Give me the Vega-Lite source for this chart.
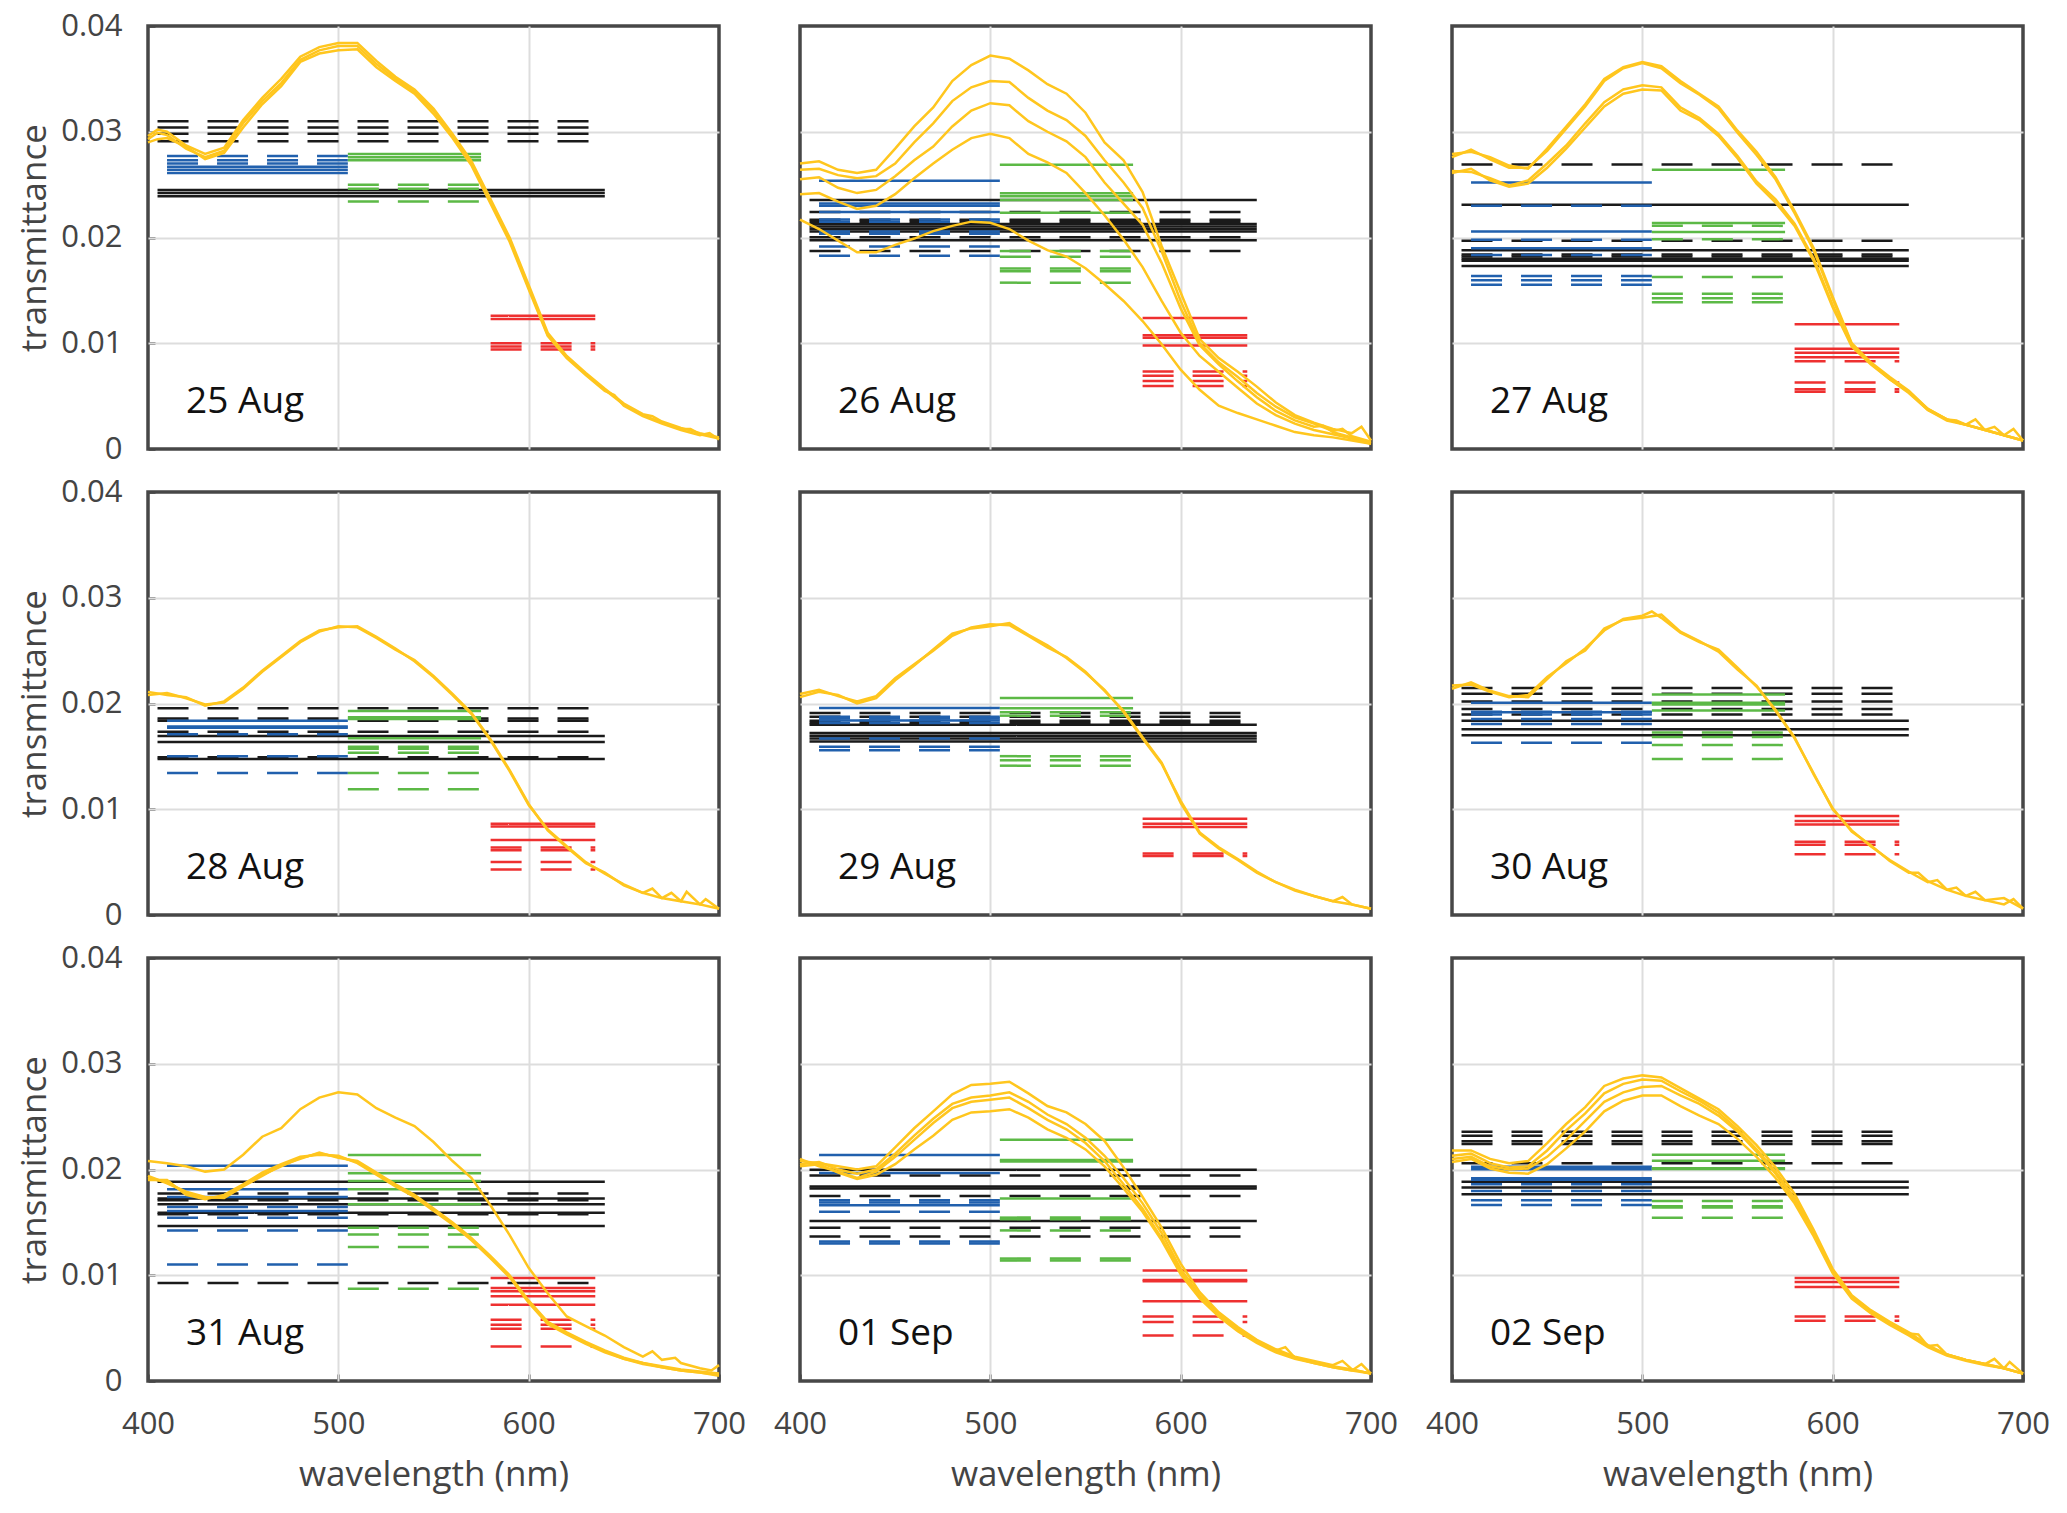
{
  "$schema": "https://vega.github.io/schema/vega-lite/v6.json",
  "padding": {"left": 17, "top": 10, "right": 5, "bottom": 5},
  "bounds": "flush",
  "data": {"values": [
    {"t":"w","day":"25 Aug","x":400,"c1":0.0293,"c2":0.0290,"c3":0.0296},
    {"t":"w","day":"25 Aug","x":405,"c1":0.0299,"c2":0.0293,"c3":0.0302},
    {"t":"w","day":"25 Aug","x":410,"c1":0.0297,"c2":0.0294,"c3":0.0300},
    {"t":"w","day":"25 Aug","x":420,"c1":0.0284,"c2":0.0286,"c3":0.0287},
    {"t":"w","day":"25 Aug","x":430,"c1":0.0276,"c2":0.0274,"c3":0.0279},
    {"t":"w","day":"25 Aug","x":440,"c1":0.0282,"c2":0.0280,"c3":0.0285},
    {"t":"w","day":"25 Aug","x":450,"c1":0.0308,"c2":0.0304,"c3":0.0311},
    {"t":"w","day":"25 Aug","x":460,"c1":0.0329,"c2":0.0326,"c3":0.0332},
    {"t":"w","day":"25 Aug","x":470,"c1":0.0346,"c2":0.0343,"c3":0.0350},
    {"t":"w","day":"25 Aug","x":480,"c1":0.0368,"c2":0.0366,"c3":0.0371},
    {"t":"w","day":"25 Aug","x":490,"c1":0.0377,"c2":0.0374,"c3":0.0380},
    {"t":"w","day":"25 Aug","x":500,"c1":0.0381,"c2":0.0377,"c3":0.0384},
    {"t":"w","day":"25 Aug","x":510,"c1":0.0381,"c2":0.0378,"c3":0.0384},
    {"t":"w","day":"25 Aug","x":520,"c1":0.0364,"c2":0.0361,"c3":0.0367},
    {"t":"w","day":"25 Aug","x":530,"c1":0.0350,"c2":0.0348,"c3":0.0352},
    {"t":"w","day":"25 Aug","x":540,"c1":0.0338,"c2":0.0336,"c3":0.0340},
    {"t":"w","day":"25 Aug","x":550,"c1":0.0320,"c2":0.0317,"c3":0.0322},
    {"t":"w","day":"25 Aug","x":560,"c1":0.0296,"c2":0.0294,"c3":0.0298},
    {"t":"w","day":"25 Aug","x":570,"c1":0.0270,"c2":0.0268,"c3":0.0272},
    {"t":"w","day":"25 Aug","x":580,"c1":0.0234,"c2":0.0232,"c3":0.0236},
    {"t":"w","day":"25 Aug","x":590,"c1":0.0198,"c2":0.0196,"c3":0.0200},
    {"t":"w","day":"25 Aug","x":600,"c1":0.0153,"c2":0.0151,"c3":0.0155},
    {"t":"w","day":"25 Aug","x":610,"c1":0.0108,"c2":0.0107,"c3":0.0110},
    {"t":"w","day":"25 Aug","x":620,"c1":0.0087,"c2":0.0086,"c3":0.0088},
    {"t":"w","day":"25 Aug","x":630,"c1":0.0071,"c2":0.0070,"c3":0.0072},
    {"t":"w","day":"25 Aug","x":640,"c1":0.0056,"c2":0.0055,"c3":0.0057},
    {"t":"w","day":"25 Aug","x":645,"c2":0.0051},
    {"t":"w","day":"25 Aug","x":650,"c1":0.0042,"c2":0.0041,"c3":0.0043},
    {"t":"w","day":"25 Aug","x":660,"c1":0.0032,"c2":0.0031,"c3":0.0033},
    {"t":"w","day":"25 Aug","x":665,"c3":0.0031},
    {"t":"w","day":"25 Aug","x":670,"c1":0.0025,"c2":0.0024,"c3":0.0026},
    {"t":"w","day":"25 Aug","x":680,"c1":0.0019,"c2":0.0018,"c3":0.0020},
    {"t":"w","day":"25 Aug","x":685,"c1":0.0019},
    {"t":"w","day":"25 Aug","x":690,"c1":0.0014,"c2":0.0013,"c3":0.0015},
    {"t":"w","day":"25 Aug","x":695,"c2":0.0015},
    {"t":"w","day":"25 Aug","x":700,"c1":0.0010,"c2":0.0009,"c3":0.0011},

    {"t":"w","day":"26 Aug","x":400,"c1":0.0270,"c2":0.0264,"c3":0.0255,"c4":0.0241,"c5":0.0217},
    {"t":"w","day":"26 Aug","x":410,"c1":0.0272,"c2":0.0265,"c3":0.0257,"c4":0.0242,"c5":0.0208},
    {"t":"w","day":"26 Aug","x":420,"c1":0.0264,"c2":0.0259,"c3":0.0247,"c4":0.0234,"c5":0.0197},
    {"t":"w","day":"26 Aug","x":430,"c1":0.0261,"c2":0.0256,"c3":0.0242,"c4":0.0227,"c5":0.0186},
    {"t":"w","day":"26 Aug","x":440,"c1":0.0264,"c2":0.0258,"c3":0.0245,"c4":0.0230,"c5":0.0186},
    {"t":"w","day":"26 Aug","x":450,"c1":0.0284,"c2":0.0270,"c3":0.0258,"c4":0.0241,"c5":0.0193},
    {"t":"w","day":"26 Aug","x":460,"c1":0.0305,"c2":0.0290,"c3":0.0273,"c4":0.0256,"c5":0.0199},
    {"t":"w","day":"26 Aug","x":470,"c1":0.0323,"c2":0.0308,"c3":0.0286,"c4":0.0270,"c5":0.0206},
    {"t":"w","day":"26 Aug","x":480,"c1":0.0348,"c2":0.0329,"c3":0.0305,"c4":0.0283,"c5":0.0211},
    {"t":"w","day":"26 Aug","x":490,"c1":0.0363,"c2":0.0342,"c3":0.0320,"c4":0.0294,"c5":0.0215},
    {"t":"w","day":"26 Aug","x":500,"c1":0.0372,"c2":0.0348,"c3":0.0327,"c4":0.0298,"c5":0.0214},
    {"t":"w","day":"26 Aug","x":510,"c1":0.0369,"c2":0.0347,"c3":0.0325,"c4":0.0294,"c5":0.0208},
    {"t":"w","day":"26 Aug","x":520,"c1":0.0358,"c2":0.0332,"c3":0.0310,"c4":0.0279,"c5":0.0197},
    {"t":"w","day":"26 Aug","x":530,"c1":0.0345,"c2":0.0320,"c3":0.0300,"c4":0.0271,"c5":0.0188},
    {"t":"w","day":"26 Aug","x":540,"c1":0.0336,"c2":0.0311,"c3":0.0291,"c4":0.0261,"c5":0.0182},
    {"t":"w","day":"26 Aug","x":550,"c1":0.0318,"c2":0.0296,"c3":0.0276,"c4":0.0242,"c5":0.0171},
    {"t":"w","day":"26 Aug","x":560,"c1":0.0290,"c2":0.0273,"c3":0.0252,"c4":0.0221,"c5":0.0156},
    {"t":"w","day":"26 Aug","x":570,"c1":0.0273,"c2":0.0252,"c3":0.0232,"c4":0.0198,"c5":0.0140},
    {"t":"w","day":"26 Aug","x":580,"c1":0.0243,"c2":0.0228,"c3":0.0212,"c4":0.0172,"c5":0.0121},
    {"t":"w","day":"26 Aug","x":590,"c1":0.0192,"c2":0.0187,"c3":0.0176,"c4":0.0140,"c5":0.0099},
    {"t":"w","day":"26 Aug","x":600,"c1":0.0148,"c2":0.0140,"c3":0.0133,"c4":0.0110,"c5":0.0075},
    {"t":"w","day":"26 Aug","x":610,"c1":0.0104,"c2":0.0100,"c3":0.0098,"c4":0.0088,"c5":0.0056},
    {"t":"w","day":"26 Aug","x":620,"c1":0.0086,"c2":0.0082,"c3":0.0080,"c4":0.0073,"c5":0.0041},
    {"t":"w","day":"26 Aug","x":630,"c1":0.0073,"c2":0.0068,"c3":0.0064,"c4":0.0058,"c5":0.0034},
    {"t":"w","day":"26 Aug","x":640,"c1":0.0059,"c2":0.0053,"c3":0.0049,"c4":0.0043,"c5":0.0028},
    {"t":"w","day":"26 Aug","x":650,"c1":0.0044,"c2":0.0040,"c3":0.0036,"c4":0.0032,"c5":0.0022},
    {"t":"w","day":"26 Aug","x":660,"c1":0.0032,"c2":0.0030,"c3":0.0027,"c4":0.0024,"c5":0.0016},
    {"t":"w","day":"26 Aug","x":670,"c1":0.0025,"c2":0.0024,"c3":0.0021,"c4":0.0018,"c5":0.0013},
    {"t":"w","day":"26 Aug","x":675,"c3":0.0022},
    {"t":"w","day":"26 Aug","x":680,"c1":0.0019,"c2":0.0017,"c3":0.0016,"c4":0.0014,"c5":0.0011},
    {"t":"w","day":"26 Aug","x":685,"c2":0.0019},
    {"t":"w","day":"26 Aug","x":690,"c1":0.0015,"c2":0.0012,"c3":0.0011,"c4":0.0010,"c5":0.0008},
    {"t":"w","day":"26 Aug","x":695,"c1":0.0021},
    {"t":"w","day":"26 Aug","x":700,"c1":0.0008,"c2":0.0007,"c3":0.0006,"c4":0.0005,"c5":0.0005},

    {"t":"w","day":"27 Aug","x":400,"c1":0.0279,"c2":0.0276,"c3":0.0263,"c4":0.0261},
    {"t":"w","day":"27 Aug","x":410,"c1":0.0281,"c2":0.0283,"c3":0.0262,"c4":0.0265},
    {"t":"w","day":"27 Aug","x":420,"c1":0.0276,"c2":0.0274,"c3":0.0256,"c4":0.0254},
    {"t":"w","day":"27 Aug","x":430,"c1":0.0268,"c2":0.0266,"c3":0.0249,"c4":0.0248},
    {"t":"w","day":"27 Aug","x":440,"c1":0.0265,"c2":0.0266,"c3":0.0254,"c4":0.0251},
    {"t":"w","day":"27 Aug","x":450,"c1":0.0284,"c2":0.0282,"c3":0.0270,"c4":0.0266},
    {"t":"w","day":"27 Aug","x":460,"c1":0.0305,"c2":0.0303,"c3":0.0287,"c4":0.0284},
    {"t":"w","day":"27 Aug","x":470,"c1":0.0326,"c2":0.0324,"c3":0.0308,"c4":0.0304},
    {"t":"w","day":"27 Aug","x":480,"c1":0.0350,"c2":0.0348,"c3":0.0328,"c4":0.0324},
    {"t":"w","day":"27 Aug","x":490,"c1":0.0361,"c2":0.0360,"c3":0.0340,"c4":0.0336},
    {"t":"w","day":"27 Aug","x":500,"c1":0.0366,"c2":0.0365,"c3":0.0344,"c4":0.0340},
    {"t":"w","day":"27 Aug","x":510,"c1":0.0362,"c2":0.0360,"c3":0.0342,"c4":0.0339},
    {"t":"w","day":"27 Aug","x":520,"c1":0.0348,"c2":0.0346,"c3":0.0323,"c4":0.0320},
    {"t":"w","day":"27 Aug","x":530,"c1":0.0336,"c2":0.0335,"c3":0.0313,"c4":0.0311},
    {"t":"w","day":"27 Aug","x":540,"c1":0.0324,"c2":0.0322,"c3":0.0298,"c4":0.0296},
    {"t":"w","day":"27 Aug","x":550,"c1":0.0301,"c2":0.0299,"c3":0.0277,"c4":0.0275},
    {"t":"w","day":"27 Aug","x":560,"c1":0.0281,"c2":0.0278,"c3":0.0253,"c4":0.0251},
    {"t":"w","day":"27 Aug","x":570,"c1":0.0257,"c2":0.0255,"c3":0.0236,"c4":0.0233},
    {"t":"w","day":"27 Aug","x":580,"c1":0.0225,"c2":0.0223,"c3":0.0213,"c4":0.0211},
    {"t":"w","day":"27 Aug","x":590,"c1":0.0190,"c2":0.0188,"c3":0.0180,"c4":0.0178},
    {"t":"w","day":"27 Aug","x":600,"c1":0.0144,"c2":0.0142,"c3":0.0136,"c4":0.0134},
    {"t":"w","day":"27 Aug","x":610,"c1":0.0100,"c2":0.0099,"c3":0.0098,"c4":0.0097},
    {"t":"w","day":"27 Aug","x":620,"c1":0.0082,"c2":0.0081,"c3":0.0081,"c4":0.0080},
    {"t":"w","day":"27 Aug","x":630,"c1":0.0068,"c2":0.0067,"c3":0.0066,"c4":0.0066},
    {"t":"w","day":"27 Aug","x":640,"c1":0.0055,"c2":0.0054,"c3":0.0054,"c4":0.0053},
    {"t":"w","day":"27 Aug","x":650,"c1":0.0038,"c2":0.0038,"c3":0.0037,"c4":0.0037},
    {"t":"w","day":"27 Aug","x":660,"c1":0.0028,"c2":0.0028,"c3":0.0028,"c4":0.0027},
    {"t":"w","day":"27 Aug","x":665,"c3":0.0027},
    {"t":"w","day":"27 Aug","x":670,"c1":0.0023,"c2":0.0023,"c3":0.0023,"c4":0.0023},
    {"t":"w","day":"27 Aug","x":675,"c1":0.0028},
    {"t":"w","day":"27 Aug","x":680,"c1":0.0018,"c2":0.0018,"c3":0.0018,"c4":0.0018},
    {"t":"w","day":"27 Aug","x":685,"c2":0.0021},
    {"t":"w","day":"27 Aug","x":690,"c1":0.0013,"c2":0.0013,"c3":0.0013,"c4":0.0013},
    {"t":"w","day":"27 Aug","x":695,"c1":0.0019},
    {"t":"w","day":"27 Aug","x":700,"c1":0.0008,"c2":0.0008,"c3":0.0008,"c4":0.0008},

    {"t":"w","day":"28 Aug","x":400,"c1":0.0208,"c2":0.0211},
    {"t":"w","day":"28 Aug","x":410,"c1":0.0210,"c2":0.0208},
    {"t":"w","day":"28 Aug","x":420,"c1":0.0205,"c2":0.0206},
    {"t":"w","day":"28 Aug","x":430,"c1":0.0199,"c2":0.0198},
    {"t":"w","day":"28 Aug","x":440,"c1":0.0201,"c2":0.0202},
    {"t":"w","day":"28 Aug","x":450,"c1":0.0214,"c2":0.0215},
    {"t":"w","day":"28 Aug","x":460,"c1":0.0230,"c2":0.0231},
    {"t":"w","day":"28 Aug","x":470,"c1":0.0244,"c2":0.0245},
    {"t":"w","day":"28 Aug","x":480,"c1":0.0258,"c2":0.0259},
    {"t":"w","day":"28 Aug","x":490,"c1":0.0268,"c2":0.0269},
    {"t":"w","day":"28 Aug","x":500,"c1":0.0273,"c2":0.0272},
    {"t":"w","day":"28 Aug","x":510,"c1":0.0272,"c2":0.0273},
    {"t":"w","day":"28 Aug","x":520,"c1":0.0262,"c2":0.0263},
    {"t":"w","day":"28 Aug","x":530,"c1":0.0251,"c2":0.0252},
    {"t":"w","day":"28 Aug","x":540,"c1":0.0241,"c2":0.0240},
    {"t":"w","day":"28 Aug","x":550,"c1":0.0226,"c2":0.0225},
    {"t":"w","day":"28 Aug","x":560,"c1":0.0209,"c2":0.0208},
    {"t":"w","day":"28 Aug","x":570,"c1":0.0191,"c2":0.0190},
    {"t":"w","day":"28 Aug","x":580,"c1":0.0166,"c2":0.0165},
    {"t":"w","day":"28 Aug","x":590,"c1":0.0137,"c2":0.0136},
    {"t":"w","day":"28 Aug","x":600,"c1":0.0105,"c2":0.0104},
    {"t":"w","day":"28 Aug","x":610,"c1":0.0080,"c2":0.0081},
    {"t":"w","day":"28 Aug","x":620,"c1":0.0064,"c2":0.0065},
    {"t":"w","day":"28 Aug","x":630,"c1":0.0049,"c2":0.0050},
    {"t":"w","day":"28 Aug","x":640,"c1":0.0040,"c2":0.0039},
    {"t":"w","day":"28 Aug","x":650,"c1":0.0028,"c2":0.0029},
    {"t":"w","day":"28 Aug","x":660,"c1":0.0021,"c2":0.0021},
    {"t":"w","day":"28 Aug","x":665,"c1":0.0025},
    {"t":"w","day":"28 Aug","x":670,"c1":0.0016,"c2":0.0016},
    {"t":"w","day":"28 Aug","x":675,"c2":0.0021},
    {"t":"w","day":"28 Aug","x":680,"c1":0.0013,"c2":0.0013},
    {"t":"w","day":"28 Aug","x":683,"c1":0.0022},
    {"t":"w","day":"28 Aug","x":690,"c1":0.0010,"c2":0.0010},
    {"t":"w","day":"28 Aug","x":693,"c2":0.0015},
    {"t":"w","day":"28 Aug","x":700,"c1":0.0006,"c2":0.0006},

    {"t":"w","day":"29 Aug","x":400,"c1":0.0209,"c2":0.0206},
    {"t":"w","day":"29 Aug","x":410,"c1":0.0213,"c2":0.0211},
    {"t":"w","day":"29 Aug","x":420,"c1":0.0207,"c2":0.0208},
    {"t":"w","day":"29 Aug","x":430,"c1":0.0202,"c2":0.0200},
    {"t":"w","day":"29 Aug","x":440,"c1":0.0207,"c2":0.0205},
    {"t":"w","day":"29 Aug","x":450,"c1":0.0224,"c2":0.0222},
    {"t":"w","day":"29 Aug","x":460,"c1":0.0237,"c2":0.0236},
    {"t":"w","day":"29 Aug","x":470,"c1":0.0250,"c2":0.0251},
    {"t":"w","day":"29 Aug","x":480,"c1":0.0264,"c2":0.0266},
    {"t":"w","day":"29 Aug","x":490,"c1":0.0272,"c2":0.0271},
    {"t":"w","day":"29 Aug","x":500,"c1":0.0275,"c2":0.0273},
    {"t":"w","day":"29 Aug","x":510,"c1":0.0274,"c2":0.0276},
    {"t":"w","day":"29 Aug","x":520,"c1":0.0264,"c2":0.0265},
    {"t":"w","day":"29 Aug","x":530,"c1":0.0253,"c2":0.0255},
    {"t":"w","day":"29 Aug","x":540,"c1":0.0244,"c2":0.0243},
    {"t":"w","day":"29 Aug","x":550,"c1":0.0230,"c2":0.0229},
    {"t":"w","day":"29 Aug","x":560,"c1":0.0212,"c2":0.0213},
    {"t":"w","day":"29 Aug","x":570,"c1":0.0193,"c2":0.0192},
    {"t":"w","day":"29 Aug","x":580,"c1":0.0168,"c2":0.0167},
    {"t":"w","day":"29 Aug","x":590,"c1":0.0144,"c2":0.0143},
    {"t":"w","day":"29 Aug","x":600,"c1":0.0106,"c2":0.0108},
    {"t":"w","day":"29 Aug","x":610,"c1":0.0077,"c2":0.0078},
    {"t":"w","day":"29 Aug","x":620,"c1":0.0063,"c2":0.0064},
    {"t":"w","day":"29 Aug","x":630,"c1":0.0052,"c2":0.0053},
    {"t":"w","day":"29 Aug","x":640,"c1":0.0040,"c2":0.0041},
    {"t":"w","day":"29 Aug","x":650,"c1":0.0031,"c2":0.0031},
    {"t":"w","day":"29 Aug","x":660,"c1":0.0023,"c2":0.0024},
    {"t":"w","day":"29 Aug","x":670,"c1":0.0018,"c2":0.0018},
    {"t":"w","day":"29 Aug","x":680,"c1":0.0013,"c2":0.0013},
    {"t":"w","day":"29 Aug","x":685,"c1":0.0017},
    {"t":"w","day":"29 Aug","x":690,"c1":0.0010,"c2":0.0010},
    {"t":"w","day":"29 Aug","x":700,"c1":0.0006,"c2":0.0006},

    {"t":"w","day":"30 Aug","x":400,"c1":0.0217,"c2":0.0214},
    {"t":"w","day":"30 Aug","x":410,"c1":0.0218,"c2":0.0220},
    {"t":"w","day":"30 Aug","x":420,"c1":0.0211,"c2":0.0212},
    {"t":"w","day":"30 Aug","x":430,"c1":0.0206,"c2":0.0207},
    {"t":"w","day":"30 Aug","x":440,"c1":0.0208,"c2":0.0206},
    {"t":"w","day":"30 Aug","x":450,"c1":0.0225,"c2":0.0223},
    {"t":"w","day":"30 Aug","x":460,"c1":0.0238,"c2":0.0240},
    {"t":"w","day":"30 Aug","x":470,"c1":0.0252,"c2":0.0250},
    {"t":"w","day":"30 Aug","x":480,"c1":0.0269,"c2":0.0271},
    {"t":"w","day":"30 Aug","x":490,"c1":0.0280,"c2":0.0279},
    {"t":"w","day":"30 Aug","x":500,"c1":0.0283,"c2":0.0281},
    {"t":"w","day":"30 Aug","x":505,"c1":0.0287},
    {"t":"w","day":"30 Aug","x":510,"c1":0.0281,"c2":0.0284},
    {"t":"w","day":"30 Aug","x":520,"c1":0.0267,"c2":0.0268},
    {"t":"w","day":"30 Aug","x":530,"c1":0.0258,"c2":0.0259},
    {"t":"w","day":"30 Aug","x":540,"c1":0.0251,"c2":0.0249},
    {"t":"w","day":"30 Aug","x":550,"c1":0.0234,"c2":0.0232},
    {"t":"w","day":"30 Aug","x":560,"c1":0.0216,"c2":0.0217},
    {"t":"w","day":"30 Aug","x":570,"c1":0.0194,"c2":0.0193},
    {"t":"w","day":"30 Aug","x":580,"c1":0.0168,"c2":0.0167},
    {"t":"w","day":"30 Aug","x":590,"c1":0.0133,"c2":0.0134},
    {"t":"w","day":"30 Aug","x":600,"c1":0.0101,"c2":0.0100},
    {"t":"w","day":"30 Aug","x":610,"c1":0.0079,"c2":0.0080},
    {"t":"w","day":"30 Aug","x":620,"c1":0.0066,"c2":0.0065},
    {"t":"w","day":"30 Aug","x":630,"c1":0.0051,"c2":0.0052},
    {"t":"w","day":"30 Aug","x":640,"c1":0.0040,"c2":0.0041},
    {"t":"w","day":"30 Aug","x":645,"c1":0.0040},
    {"t":"w","day":"30 Aug","x":650,"c1":0.0032,"c2":0.0031},
    {"t":"w","day":"30 Aug","x":655,"c2":0.0033},
    {"t":"w","day":"30 Aug","x":660,"c1":0.0024,"c2":0.0024},
    {"t":"w","day":"30 Aug","x":665,"c1":0.0026},
    {"t":"w","day":"30 Aug","x":670,"c1":0.0018,"c2":0.0018},
    {"t":"w","day":"30 Aug","x":675,"c2":0.0022},
    {"t":"w","day":"30 Aug","x":680,"c1":0.0014,"c2":0.0014},
    {"t":"w","day":"30 Aug","x":690,"c1":0.0016,"c2":0.0010},
    {"t":"w","day":"30 Aug","x":695,"c2":0.0015},
    {"t":"w","day":"30 Aug","x":700,"c1":0.0006,"c2":0.0006},

    {"t":"w","day":"31 Aug","x":400,"c1":0.0208,"c2":0.0192,"c3":0.0190,"c4":0.0194},
    {"t":"w","day":"31 Aug","x":410,"c1":0.0206,"c2":0.0188,"c3":0.0190,"c4":0.0187},
    {"t":"w","day":"31 Aug","x":420,"c1":0.0203,"c2":0.0178,"c3":0.0176,"c4":0.0179},
    {"t":"w","day":"31 Aug","x":430,"c1":0.0198,"c2":0.0173,"c3":0.0172,"c4":0.0174},
    {"t":"w","day":"31 Aug","x":440,"c1":0.0200,"c2":0.0174,"c3":0.0176,"c4":0.0173},
    {"t":"w","day":"31 Aug","x":450,"c1":0.0214,"c2":0.0185,"c3":0.0186,"c4":0.0184},
    {"t":"w","day":"31 Aug","x":460,"c1":0.0231,"c2":0.0195,"c3":0.0197,"c4":0.0194},
    {"t":"w","day":"31 Aug","x":470,"c1":0.0239,"c2":0.0203,"c3":0.0205,"c4":0.0204},
    {"t":"w","day":"31 Aug","x":480,"c1":0.0257,"c2":0.0211,"c3":0.0212,"c4":0.0210},
    {"t":"w","day":"31 Aug","x":490,"c1":0.0268,"c2":0.0215,"c3":0.0214,"c4":0.0216},
    {"t":"w","day":"31 Aug","x":500,"c1":0.0273,"c2":0.0212,"c3":0.0213,"c4":0.0211},
    {"t":"w","day":"31 Aug","x":510,"c1":0.0271,"c2":0.0207,"c3":0.0206,"c4":0.0208},
    {"t":"w","day":"31 Aug","x":520,"c1":0.0258,"c2":0.0196,"c3":0.0195,"c4":0.0197},
    {"t":"w","day":"31 Aug","x":530,"c1":0.0249,"c2":0.0185,"c3":0.0184,"c4":0.0186},
    {"t":"w","day":"31 Aug","x":540,"c1":0.0241,"c2":0.0175,"c3":0.0174,"c4":0.0176},
    {"t":"w","day":"31 Aug","x":550,"c1":0.0226,"c2":0.0162,"c3":0.0161,"c4":0.0163},
    {"t":"w","day":"31 Aug","x":560,"c1":0.0208,"c2":0.0149,"c3":0.0148,"c4":0.0150},
    {"t":"w","day":"31 Aug","x":570,"c1":0.0192,"c2":0.0134,"c3":0.0133,"c4":0.0135},
    {"t":"w","day":"31 Aug","x":580,"c1":0.0166,"c2":0.0117,"c3":0.0116,"c4":0.0118},
    {"t":"w","day":"31 Aug","x":590,"c1":0.0138,"c2":0.0099,"c3":0.0098,"c4":0.0100},
    {"t":"w","day":"31 Aug","x":600,"c1":0.0107,"c2":0.0075,"c3":0.0074,"c4":0.0076},
    {"t":"w","day":"31 Aug","x":610,"c1":0.0083,"c2":0.0055,"c3":0.0054,"c4":0.0056},
    {"t":"w","day":"31 Aug","x":620,"c1":0.0061,"c2":0.0045,"c3":0.0044,"c4":0.0046},
    {"t":"w","day":"31 Aug","x":630,"c1":0.0052,"c2":0.0036,"c3":0.0035,"c4":0.0037},
    {"t":"w","day":"31 Aug","x":640,"c1":0.0043,"c2":0.0028,"c3":0.0027,"c4":0.0029},
    {"t":"w","day":"31 Aug","x":650,"c1":0.0032,"c2":0.0021,"c3":0.0021,"c4":0.0022},
    {"t":"w","day":"31 Aug","x":660,"c1":0.0023,"c2":0.0017,"c3":0.0016,"c4":0.0017},
    {"t":"w","day":"31 Aug","x":665,"c1":0.0028},
    {"t":"w","day":"31 Aug","x":670,"c1":0.0020,"c2":0.0013,"c3":0.0013,"c4":0.0014},
    {"t":"w","day":"31 Aug","x":677,"c1":0.0022},
    {"t":"w","day":"31 Aug","x":680,"c1":0.0017,"c2":0.0010,"c3":0.0010,"c4":0.0011},
    {"t":"w","day":"31 Aug","x":690,"c1":0.0012,"c2":0.0008,"c3":0.0008,"c4":0.0009},
    {"t":"w","day":"31 Aug","x":696,"c1":0.0010},
    {"t":"w","day":"31 Aug","x":700,"c1":0.0015,"c2":0.0006,"c3":0.0005,"c4":0.0007},

    {"t":"w","day":"01 Sep","x":400,"c1":0.0208,"c2":0.0205,"c3":0.0210,"c4":0.0203},
    {"t":"w","day":"01 Sep","x":410,"c1":0.0206,"c2":0.0207,"c3":0.0203,"c4":0.0205},
    {"t":"w","day":"01 Sep","x":420,"c1":0.0203,"c2":0.0200,"c3":0.0198,"c4":0.0197},
    {"t":"w","day":"01 Sep","x":430,"c1":0.0200,"c2":0.0196,"c3":0.0192,"c4":0.0191},
    {"t":"w","day":"01 Sep","x":440,"c1":0.0203,"c2":0.0200,"c3":0.0198,"c4":0.0195},
    {"t":"w","day":"01 Sep","x":450,"c1":0.0221,"c2":0.0215,"c3":0.0212,"c4":0.0205},
    {"t":"w","day":"01 Sep","x":460,"c1":0.0239,"c2":0.0232,"c3":0.0228,"c4":0.0219},
    {"t":"w","day":"01 Sep","x":470,"c1":0.0255,"c2":0.0248,"c3":0.0244,"c4":0.0232},
    {"t":"w","day":"01 Sep","x":480,"c1":0.0271,"c2":0.0262,"c3":0.0258,"c4":0.0247},
    {"t":"w","day":"01 Sep","x":490,"c1":0.0280,"c2":0.0268,"c3":0.0264,"c4":0.0254},
    {"t":"w","day":"01 Sep","x":500,"c1":0.0281,"c2":0.0270,"c3":0.0266,"c4":0.0255},
    {"t":"w","day":"01 Sep","x":510,"c1":0.0283,"c2":0.0273,"c3":0.0268,"c4":0.0257},
    {"t":"w","day":"01 Sep","x":520,"c1":0.0272,"c2":0.0264,"c3":0.0258,"c4":0.0249},
    {"t":"w","day":"01 Sep","x":530,"c1":0.0260,"c2":0.0252,"c3":0.0247,"c4":0.0238},
    {"t":"w","day":"01 Sep","x":540,"c1":0.0254,"c2":0.0243,"c3":0.0238,"c4":0.0230},
    {"t":"w","day":"01 Sep","x":550,"c1":0.0243,"c2":0.0230,"c3":0.0225,"c4":0.0219},
    {"t":"w","day":"01 Sep","x":560,"c1":0.0227,"c2":0.0213,"c3":0.0208,"c4":0.0203},
    {"t":"w","day":"01 Sep","x":570,"c1":0.0202,"c2":0.0192,"c3":0.0186,"c4":0.0182},
    {"t":"w","day":"01 Sep","x":580,"c1":0.0174,"c2":0.0168,"c3":0.0163,"c4":0.0160},
    {"t":"w","day":"01 Sep","x":590,"c1":0.0145,"c2":0.0140,"c3":0.0135,"c4":0.0133},
    {"t":"w","day":"01 Sep","x":600,"c1":0.0111,"c2":0.0106,"c3":0.0103,"c4":0.0101},
    {"t":"w","day":"01 Sep","x":610,"c1":0.0084,"c2":0.0081,"c3":0.0079,"c4":0.0078},
    {"t":"w","day":"01 Sep","x":620,"c1":0.0065,"c2":0.0063,"c3":0.0062,"c4":0.0061},
    {"t":"w","day":"01 Sep","x":630,"c1":0.0051,"c2":0.0049,"c3":0.0048,"c4":0.0047},
    {"t":"w","day":"01 Sep","x":640,"c1":0.0039,"c2":0.0038,"c3":0.0037,"c4":0.0036},
    {"t":"w","day":"01 Sep","x":650,"c1":0.0030,"c2":0.0029,"c3":0.0028,"c4":0.0027},
    {"t":"w","day":"01 Sep","x":655,"c2":0.0032},
    {"t":"w","day":"01 Sep","x":660,"c1":0.0023,"c2":0.0022,"c3":0.0022,"c4":0.0021},
    {"t":"w","day":"01 Sep","x":670,"c1":0.0019,"c2":0.0018,"c3":0.0017,"c4":0.0017},
    {"t":"w","day":"01 Sep","x":680,"c1":0.0015,"c2":0.0014,"c3":0.0013,"c4":0.0013},
    {"t":"w","day":"01 Sep","x":685,"c1":0.0019},
    {"t":"w","day":"01 Sep","x":690,"c1":0.0011,"c2":0.0011,"c3":0.0010,"c4":0.0010},
    {"t":"w","day":"01 Sep","x":695,"c3":0.0016},
    {"t":"w","day":"01 Sep","x":700,"c1":0.0007,"c2":0.0007,"c3":0.0007,"c4":0.0007},

    {"t":"w","day":"02 Sep","x":400,"c1":0.0218,"c2":0.0213,"c3":0.0210,"c4":0.0207},
    {"t":"w","day":"02 Sep","x":410,"c1":0.0218,"c2":0.0215,"c3":0.0212,"c4":0.0210},
    {"t":"w","day":"02 Sep","x":420,"c1":0.0210,"c2":0.0206,"c3":0.0203,"c4":0.0201},
    {"t":"w","day":"02 Sep","x":430,"c1":0.0206,"c2":0.0202,"c3":0.0200,"c4":0.0197},
    {"t":"w","day":"02 Sep","x":440,"c1":0.0208,"c2":0.0203,"c3":0.0201,"c4":0.0196},
    {"t":"w","day":"02 Sep","x":450,"c1":0.0225,"c2":0.0218,"c3":0.0212,"c4":0.0205},
    {"t":"w","day":"02 Sep","x":460,"c1":0.0243,"c2":0.0237,"c3":0.0228,"c4":0.0220},
    {"t":"w","day":"02 Sep","x":470,"c1":0.0259,"c2":0.0253,"c3":0.0246,"c4":0.0236},
    {"t":"w","day":"02 Sep","x":480,"c1":0.0279,"c2":0.0272,"c3":0.0264,"c4":0.0255},
    {"t":"w","day":"02 Sep","x":490,"c1":0.0286,"c2":0.0281,"c3":0.0273,"c4":0.0265},
    {"t":"w","day":"02 Sep","x":500,"c1":0.0289,"c2":0.0285,"c3":0.0278,"c4":0.0270},
    {"t":"w","day":"02 Sep","x":510,"c1":0.0287,"c2":0.0284,"c3":0.0279,"c4":0.0270},
    {"t":"w","day":"02 Sep","x":520,"c1":0.0277,"c2":0.0274,"c3":0.0270,"c4":0.0260},
    {"t":"w","day":"02 Sep","x":530,"c1":0.0267,"c2":0.0265,"c3":0.0262,"c4":0.0251},
    {"t":"w","day":"02 Sep","x":540,"c1":0.0257,"c2":0.0254,"c3":0.0251,"c4":0.0243},
    {"t":"w","day":"02 Sep","x":550,"c1":0.0241,"c2":0.0238,"c3":0.0236,"c4":0.0229},
    {"t":"w","day":"02 Sep","x":560,"c1":0.0223,"c2":0.0219,"c3":0.0217,"c4":0.0212},
    {"t":"w","day":"02 Sep","x":570,"c1":0.0202,"c2":0.0198,"c3":0.0196,"c4":0.0192},
    {"t":"w","day":"02 Sep","x":580,"c1":0.0177,"c2":0.0173,"c3":0.0171,"c4":0.0168},
    {"t":"w","day":"02 Sep","x":590,"c1":0.0143,"c2":0.0140,"c3":0.0139,"c4":0.0137},
    {"t":"w","day":"02 Sep","x":600,"c1":0.0106,"c2":0.0104,"c3":0.0103,"c4":0.0102},
    {"t":"w","day":"02 Sep","x":610,"c1":0.0081,"c2":0.0080,"c3":0.0079,"c4":0.0078},
    {"t":"w","day":"02 Sep","x":620,"c1":0.0067,"c2":0.0066,"c3":0.0065,"c4":0.0064},
    {"t":"w","day":"02 Sep","x":630,"c1":0.0056,"c2":0.0055,"c3":0.0054,"c4":0.0053},
    {"t":"w","day":"02 Sep","x":640,"c1":0.0046,"c2":0.0045,"c3":0.0044,"c4":0.0043},
    {"t":"w","day":"02 Sep","x":645,"c2":0.0044},
    {"t":"w","day":"02 Sep","x":650,"c1":0.0034,"c2":0.0033,"c3":0.0033,"c4":0.0032},
    {"t":"w","day":"02 Sep","x":655,"c3":0.0034},
    {"t":"w","day":"02 Sep","x":660,"c1":0.0025,"c2":0.0025,"c3":0.0025,"c4":0.0024},
    {"t":"w","day":"02 Sep","x":670,"c1":0.0020,"c2":0.0020,"c3":0.0020,"c4":0.0019},
    {"t":"w","day":"02 Sep","x":680,"c1":0.0016,"c2":0.0016,"c3":0.0016,"c4":0.0015},
    {"t":"w","day":"02 Sep","x":685,"c1":0.0021},
    {"t":"w","day":"02 Sep","x":690,"c1":0.0012,"c2":0.0012,"c3":0.0012,"c4":0.0012},
    {"t":"w","day":"02 Sep","x":693,"c2":0.0018},
    {"t":"w","day":"02 Sep","x":700,"c1":0.0007,"c2":0.0007,"c3":0.0007,"c4":0.0007},

    {"t":"s","day":"25 Aug","col":"k","ls":"d","x":405,"x2":640,"y":0.0310},
    {"t":"s","day":"25 Aug","col":"k","ls":"d","x":405,"x2":640,"y":0.0304},
    {"t":"s","day":"25 Aug","col":"k","ls":"d","x":405,"x2":640,"y":0.0298},
    {"t":"s","day":"25 Aug","col":"k","ls":"d","x":405,"x2":640,"y":0.0291},
    {"t":"s","day":"25 Aug","col":"k","ls":"s","x":405,"x2":640,"y":0.0245},
    {"t":"s","day":"25 Aug","col":"k","ls":"s","x":405,"x2":640,"y":0.0242},
    {"t":"s","day":"25 Aug","col":"k","ls":"s","x":405,"x2":640,"y":0.0239},
    {"t":"s","day":"25 Aug","col":"b","ls":"d","x":410,"x2":505,"y":0.0277},
    {"t":"s","day":"25 Aug","col":"b","ls":"d","x":410,"x2":505,"y":0.0273},
    {"t":"s","day":"25 Aug","col":"b","ls":"d","x":410,"x2":505,"y":0.0270},
    {"t":"s","day":"25 Aug","col":"b","ls":"s","x":410,"x2":505,"y":0.0267},
    {"t":"s","day":"25 Aug","col":"b","ls":"s","x":410,"x2":505,"y":0.0264},
    {"t":"s","day":"25 Aug","col":"b","ls":"s","x":410,"x2":505,"y":0.0261},
    {"t":"s","day":"25 Aug","col":"g","ls":"s","x":505,"x2":575,"y":0.0279},
    {"t":"s","day":"25 Aug","col":"g","ls":"s","x":505,"x2":575,"y":0.0276},
    {"t":"s","day":"25 Aug","col":"g","ls":"s","x":505,"x2":575,"y":0.0273},
    {"t":"s","day":"25 Aug","col":"g","ls":"d","x":505,"x2":575,"y":0.0250},
    {"t":"s","day":"25 Aug","col":"g","ls":"d","x":505,"x2":575,"y":0.0246},
    {"t":"s","day":"25 Aug","col":"g","ls":"d","x":505,"x2":575,"y":0.0234},
    {"t":"s","day":"25 Aug","col":"r","ls":"s","x":580,"x2":635,"y":0.0126},
    {"t":"s","day":"25 Aug","col":"r","ls":"s","x":580,"x2":635,"y":0.0123},
    {"t":"s","day":"25 Aug","col":"r","ls":"d","x":580,"x2":635,"y":0.0100},
    {"t":"s","day":"25 Aug","col":"r","ls":"d","x":580,"x2":635,"y":0.0097},
    {"t":"s","day":"25 Aug","col":"r","ls":"d","x":580,"x2":635,"y":0.0094},

    {"t":"s","day":"26 Aug","col":"k","ls":"s","x":405,"x2":640,"y":0.02354},
    {"t":"s","day":"26 Aug","col":"k","ls":"s","x":405,"x2":640,"y":0.02128},
    {"t":"s","day":"26 Aug","col":"k","ls":"s","x":405,"x2":640,"y":0.02105},
    {"t":"s","day":"26 Aug","col":"k","ls":"s","x":405,"x2":640,"y":0.0208},
    {"t":"s","day":"26 Aug","col":"k","ls":"s","x":405,"x2":640,"y":0.02057},
    {"t":"s","day":"26 Aug","col":"k","ls":"s","x":405,"x2":640,"y":0.01974},
    {"t":"s","day":"26 Aug","col":"k","ls":"d","x":405,"x2":640,"y":0.02242},
    {"t":"s","day":"26 Aug","col":"k","ls":"d","x":405,"x2":640,"y":0.02169},
    {"t":"s","day":"26 Aug","col":"k","ls":"d","x":405,"x2":640,"y":0.0215},
    {"t":"s","day":"26 Aug","col":"k","ls":"d","x":405,"x2":640,"y":0.02003},
    {"t":"s","day":"26 Aug","col":"k","ls":"d","x":405,"x2":640,"y":0.01872},
    {"t":"s","day":"26 Aug","col":"b","ls":"s","x":410,"x2":505,"y":0.02536},
    {"t":"s","day":"26 Aug","col":"b","ls":"s","x":410,"x2":505,"y":0.02322},
    {"t":"s","day":"26 Aug","col":"b","ls":"s","x":410,"x2":505,"y":0.0230},
    {"t":"s","day":"26 Aug","col":"b","ls":"s","x":410,"x2":505,"y":0.02242},
    {"t":"s","day":"26 Aug","col":"b","ls":"d","x":410,"x2":505,"y":0.0217},
    {"t":"s","day":"26 Aug","col":"b","ls":"d","x":410,"x2":505,"y":0.02148},
    {"t":"s","day":"26 Aug","col":"b","ls":"d","x":410,"x2":505,"y":0.02057},
    {"t":"s","day":"26 Aug","col":"b","ls":"d","x":410,"x2":505,"y":0.02036},
    {"t":"s","day":"26 Aug","col":"b","ls":"d","x":410,"x2":505,"y":0.01914},
    {"t":"s","day":"26 Aug","col":"b","ls":"d","x":410,"x2":505,"y":0.01828},
    {"t":"s","day":"26 Aug","col":"g","ls":"s","x":505,"x2":575,"y":0.02689},
    {"t":"s","day":"26 Aug","col":"g","ls":"s","x":505,"x2":575,"y":0.02418},
    {"t":"s","day":"26 Aug","col":"g","ls":"s","x":505,"x2":575,"y":0.02389},
    {"t":"s","day":"26 Aug","col":"g","ls":"s","x":505,"x2":575,"y":0.02354},
    {"t":"s","day":"26 Aug","col":"g","ls":"s","x":505,"x2":575,"y":0.02233},
    {"t":"s","day":"26 Aug","col":"g","ls":"d","x":505,"x2":575,"y":0.01872},
    {"t":"s","day":"26 Aug","col":"g","ls":"d","x":505,"x2":575,"y":0.01818},
    {"t":"s","day":"26 Aug","col":"g","ls":"d","x":505,"x2":575,"y":0.01707},
    {"t":"s","day":"26 Aug","col":"g","ls":"d","x":505,"x2":575,"y":0.01681},
    {"t":"s","day":"26 Aug","col":"g","ls":"d","x":505,"x2":575,"y":0.01573},
    {"t":"s","day":"26 Aug","col":"r","ls":"s","x":580,"x2":635,"y":0.01238},
    {"t":"s","day":"26 Aug","col":"r","ls":"s","x":580,"x2":635,"y":0.01075},
    {"t":"s","day":"26 Aug","col":"r","ls":"s","x":580,"x2":635,"y":0.01053},
    {"t":"s","day":"26 Aug","col":"r","ls":"s","x":580,"x2":635,"y":0.00979},
    {"t":"s","day":"26 Aug","col":"r","ls":"d","x":580,"x2":635,"y":0.00734},
    {"t":"s","day":"26 Aug","col":"r","ls":"d","x":580,"x2":635,"y":0.00692},
    {"t":"s","day":"26 Aug","col":"r","ls":"d","x":580,"x2":635,"y":0.00644},
    {"t":"s","day":"26 Aug","col":"r","ls":"d","x":580,"x2":635,"y":0.00596},

    {"t":"s","day":"27 Aug","col":"k","ls":"d","x":405,"x2":640,"y":0.0269},
    {"t":"s","day":"27 Aug","col":"k","ls":"d","x":405,"x2":640,"y":0.0197},
    {"t":"s","day":"27 Aug","col":"k","ls":"d","x":405,"x2":640,"y":0.0184},
    {"t":"s","day":"27 Aug","col":"k","ls":"d","x":405,"x2":640,"y":0.0182},
    {"t":"s","day":"27 Aug","col":"k","ls":"s","x":405,"x2":640,"y":0.0231},
    {"t":"s","day":"27 Aug","col":"k","ls":"s","x":405,"x2":640,"y":0.0188},
    {"t":"s","day":"27 Aug","col":"k","ls":"s","x":405,"x2":640,"y":0.0180},
    {"t":"s","day":"27 Aug","col":"k","ls":"s","x":405,"x2":640,"y":0.0178},
    {"t":"s","day":"27 Aug","col":"k","ls":"s","x":405,"x2":640,"y":0.0173},
    {"t":"s","day":"27 Aug","col":"b","ls":"s","x":410,"x2":505,"y":0.0252},
    {"t":"s","day":"27 Aug","col":"b","ls":"s","x":410,"x2":505,"y":0.02057},
    {"t":"s","day":"27 Aug","col":"b","ls":"s","x":410,"x2":505,"y":0.01898},
    {"t":"s","day":"27 Aug","col":"b","ls":"d","x":410,"x2":505,"y":0.0230},
    {"t":"s","day":"27 Aug","col":"b","ls":"d","x":410,"x2":505,"y":0.01978},
    {"t":"s","day":"27 Aug","col":"b","ls":"d","x":410,"x2":505,"y":0.01834},
    {"t":"s","day":"27 Aug","col":"b","ls":"d","x":410,"x2":505,"y":0.01636},
    {"t":"s","day":"27 Aug","col":"b","ls":"d","x":410,"x2":505,"y":0.01595},
    {"t":"s","day":"27 Aug","col":"b","ls":"d","x":410,"x2":505,"y":0.01553},
    {"t":"s","day":"27 Aug","col":"g","ls":"s","x":505,"x2":575,"y":0.02641},
    {"t":"s","day":"27 Aug","col":"g","ls":"s","x":505,"x2":575,"y":0.02137},
    {"t":"s","day":"27 Aug","col":"g","ls":"d","x":505,"x2":575,"y":0.0211},
    {"t":"s","day":"27 Aug","col":"g","ls":"s","x":505,"x2":575,"y":0.02051},
    {"t":"s","day":"27 Aug","col":"g","ls":"d","x":505,"x2":575,"y":0.01984},
    {"t":"s","day":"27 Aug","col":"g","ls":"d","x":505,"x2":575,"y":0.01627},
    {"t":"s","day":"27 Aug","col":"g","ls":"d","x":505,"x2":575,"y":0.01467},
    {"t":"s","day":"27 Aug","col":"g","ls":"d","x":505,"x2":575,"y":0.01426},
    {"t":"s","day":"27 Aug","col":"g","ls":"d","x":505,"x2":575,"y":0.01388},
    {"t":"s","day":"27 Aug","col":"r","ls":"s","x":580,"x2":635,"y":0.0118},
    {"t":"s","day":"27 Aug","col":"r","ls":"s","x":580,"x2":635,"y":0.00947},
    {"t":"s","day":"27 Aug","col":"r","ls":"s","x":580,"x2":635,"y":0.00909},
    {"t":"s","day":"27 Aug","col":"r","ls":"s","x":580,"x2":635,"y":0.00868},
    {"t":"s","day":"27 Aug","col":"r","ls":"d","x":580,"x2":635,"y":0.00829},
    {"t":"s","day":"27 Aug","col":"r","ls":"d","x":580,"x2":635,"y":0.00628},
    {"t":"s","day":"27 Aug","col":"r","ls":"d","x":580,"x2":635,"y":0.00565},
    {"t":"s","day":"27 Aug","col":"r","ls":"d","x":580,"x2":635,"y":0.00542},

    {"t":"s","day":"28 Aug","col":"k","ls":"d","x":405,"x2":640,"y":0.01955},
    {"t":"s","day":"28 Aug","col":"k","ls":"d","x":405,"x2":640,"y":0.01859},
    {"t":"s","day":"28 Aug","col":"k","ls":"d","x":405,"x2":640,"y":0.01837},
    {"t":"s","day":"28 Aug","col":"k","ls":"d","x":405,"x2":640,"y":0.01732},
    {"t":"s","day":"28 Aug","col":"k","ls":"d","x":405,"x2":640,"y":0.01492},
    {"t":"s","day":"28 Aug","col":"k","ls":"s","x":405,"x2":640,"y":0.01693},
    {"t":"s","day":"28 Aug","col":"k","ls":"s","x":405,"x2":640,"y":0.01636},
    {"t":"s","day":"28 Aug","col":"k","ls":"s","x":405,"x2":640,"y":0.01476},
    {"t":"s","day":"28 Aug","col":"b","ls":"s","x":410,"x2":505,"y":0.01837},
    {"t":"s","day":"28 Aug","col":"b","ls":"s","x":410,"x2":505,"y":0.01783},
    {"t":"s","day":"28 Aug","col":"b","ls":"s","x":410,"x2":505,"y":0.0177},
    {"t":"s","day":"28 Aug","col":"b","ls":"d","x":410,"x2":505,"y":0.01709},
    {"t":"s","day":"28 Aug","col":"b","ls":"d","x":410,"x2":505,"y":0.01502},
    {"t":"s","day":"28 Aug","col":"b","ls":"d","x":410,"x2":505,"y":0.01342},
    {"t":"s","day":"28 Aug","col":"g","ls":"s","x":505,"x2":575,"y":0.0193},
    {"t":"s","day":"28 Aug","col":"g","ls":"s","x":505,"x2":575,"y":0.01869},
    {"t":"s","day":"28 Aug","col":"g","ls":"s","x":505,"x2":575,"y":0.01853},
    {"t":"s","day":"28 Aug","col":"g","ls":"s","x":505,"x2":575,"y":0.01671},
    {"t":"s","day":"28 Aug","col":"g","ls":"d","x":505,"x2":575,"y":0.01591},
    {"t":"s","day":"28 Aug","col":"g","ls":"d","x":505,"x2":575,"y":0.01572},
    {"t":"s","day":"28 Aug","col":"g","ls":"d","x":505,"x2":575,"y":0.01534},
    {"t":"s","day":"28 Aug","col":"g","ls":"d","x":505,"x2":575,"y":0.01342},
    {"t":"s","day":"28 Aug","col":"g","ls":"d","x":505,"x2":575,"y":0.01188},
    {"t":"s","day":"28 Aug","col":"r","ls":"s","x":580,"x2":635,"y":0.00863},
    {"t":"s","day":"28 Aug","col":"r","ls":"s","x":580,"x2":635,"y":0.00837},
    {"t":"s","day":"28 Aug","col":"r","ls":"s","x":580,"x2":635,"y":0.00709},
    {"t":"s","day":"28 Aug","col":"r","ls":"d","x":580,"x2":635,"y":0.00639},
    {"t":"s","day":"28 Aug","col":"r","ls":"d","x":580,"x2":635,"y":0.00613},
    {"t":"s","day":"28 Aug","col":"r","ls":"d","x":580,"x2":635,"y":0.00502},
    {"t":"s","day":"28 Aug","col":"r","ls":"d","x":580,"x2":635,"y":0.00431},

    {"t":"s","day":"29 Aug","col":"k","ls":"d","x":405,"x2":640,"y":0.01911},
    {"t":"s","day":"29 Aug","col":"k","ls":"d","x":405,"x2":640,"y":0.01875},
    {"t":"s","day":"29 Aug","col":"k","ls":"d","x":405,"x2":640,"y":0.01837},
    {"t":"s","day":"29 Aug","col":"k","ls":"d","x":405,"x2":640,"y":0.01815},
    {"t":"s","day":"29 Aug","col":"k","ls":"s","x":405,"x2":640,"y":0.01799},
    {"t":"s","day":"29 Aug","col":"k","ls":"s","x":405,"x2":640,"y":0.01722},
    {"t":"s","day":"29 Aug","col":"k","ls":"s","x":405,"x2":640,"y":0.01695},
    {"t":"s","day":"29 Aug","col":"k","ls":"s","x":405,"x2":640,"y":0.01668},
    {"t":"s","day":"29 Aug","col":"k","ls":"s","x":405,"x2":640,"y":0.01641},
    {"t":"s","day":"29 Aug","col":"b","ls":"s","x":410,"x2":505,"y":0.01958},
    {"t":"s","day":"29 Aug","col":"b","ls":"s","x":410,"x2":505,"y":0.0184},
    {"t":"s","day":"29 Aug","col":"b","ls":"d","x":410,"x2":505,"y":0.01875},
    {"t":"s","day":"29 Aug","col":"b","ls":"d","x":410,"x2":505,"y":0.01857},
    {"t":"s","day":"29 Aug","col":"b","ls":"d","x":410,"x2":505,"y":0.01815},
    {"t":"s","day":"29 Aug","col":"b","ls":"d","x":410,"x2":505,"y":0.01668},
    {"t":"s","day":"29 Aug","col":"b","ls":"d","x":410,"x2":505,"y":0.01591},
    {"t":"s","day":"29 Aug","col":"b","ls":"d","x":410,"x2":505,"y":0.01559},
    {"t":"s","day":"29 Aug","col":"g","ls":"s","x":505,"x2":575,"y":0.02051},
    {"t":"s","day":"29 Aug","col":"g","ls":"s","x":505,"x2":575,"y":0.01955},
    {"t":"s","day":"29 Aug","col":"g","ls":"d","x":505,"x2":575,"y":0.01917},
    {"t":"s","day":"29 Aug","col":"g","ls":"d","x":505,"x2":575,"y":0.01885},
    {"t":"s","day":"29 Aug","col":"g","ls":"d","x":505,"x2":575,"y":0.01502},
    {"t":"s","day":"29 Aug","col":"g","ls":"d","x":505,"x2":575,"y":0.01463},
    {"t":"s","day":"29 Aug","col":"g","ls":"d","x":505,"x2":575,"y":0.01412},
    {"t":"s","day":"29 Aug","col":"r","ls":"s","x":580,"x2":635,"y":0.00911},
    {"t":"s","day":"29 Aug","col":"r","ls":"s","x":580,"x2":635,"y":0.00863},
    {"t":"s","day":"29 Aug","col":"r","ls":"s","x":580,"x2":635,"y":0.00831},
    {"t":"s","day":"29 Aug","col":"r","ls":"d","x":580,"x2":635,"y":0.00581},
    {"t":"s","day":"29 Aug","col":"r","ls":"d","x":580,"x2":635,"y":0.00559},

    {"t":"s","day":"30 Aug","col":"k","ls":"d","x":405,"x2":640,"y":0.02147},
    {"t":"s","day":"30 Aug","col":"k","ls":"d","x":405,"x2":640,"y":0.02093},
    {"t":"s","day":"30 Aug","col":"k","ls":"d","x":405,"x2":640,"y":0.02019},
    {"t":"s","day":"30 Aug","col":"k","ls":"d","x":405,"x2":640,"y":0.01949},
    {"t":"s","day":"30 Aug","col":"k","ls":"d","x":405,"x2":640,"y":0.01895},
    {"t":"s","day":"30 Aug","col":"k","ls":"s","x":405,"x2":640,"y":0.01837},
    {"t":"s","day":"30 Aug","col":"k","ls":"s","x":405,"x2":640,"y":0.01757},
    {"t":"s","day":"30 Aug","col":"k","ls":"s","x":405,"x2":640,"y":0.0170},
    {"t":"s","day":"30 Aug","col":"b","ls":"s","x":410,"x2":505,"y":0.02006},
    {"t":"s","day":"30 Aug","col":"b","ls":"s","x":410,"x2":505,"y":0.01917},
    {"t":"s","day":"30 Aug","col":"b","ls":"d","x":410,"x2":505,"y":0.01923},
    {"t":"s","day":"30 Aug","col":"b","ls":"d","x":410,"x2":505,"y":0.01895},
    {"t":"s","day":"30 Aug","col":"b","ls":"d","x":410,"x2":505,"y":0.01853},
    {"t":"s","day":"30 Aug","col":"b","ls":"d","x":410,"x2":505,"y":0.01805},
    {"t":"s","day":"30 Aug","col":"b","ls":"d","x":410,"x2":505,"y":0.01629},
    {"t":"s","day":"30 Aug","col":"g","ls":"s","x":505,"x2":575,"y":0.02086},
    {"t":"s","day":"30 Aug","col":"g","ls":"s","x":505,"x2":575,"y":0.02006},
    {"t":"s","day":"30 Aug","col":"g","ls":"s","x":505,"x2":575,"y":0.0199},
    {"t":"s","day":"30 Aug","col":"g","ls":"s","x":505,"x2":575,"y":0.01933},
    {"t":"s","day":"30 Aug","col":"g","ls":"d","x":505,"x2":575,"y":0.01725},
    {"t":"s","day":"30 Aug","col":"g","ls":"d","x":505,"x2":575,"y":0.01684},
    {"t":"s","day":"30 Aug","col":"g","ls":"d","x":505,"x2":575,"y":0.01607},
    {"t":"s","day":"30 Aug","col":"g","ls":"d","x":505,"x2":575,"y":0.01476},
    {"t":"s","day":"30 Aug","col":"r","ls":"s","x":580,"x2":635,"y":0.00936},
    {"t":"s","day":"30 Aug","col":"r","ls":"s","x":580,"x2":635,"y":0.00888},
    {"t":"s","day":"30 Aug","col":"r","ls":"s","x":580,"x2":635,"y":0.00856},
    {"t":"s","day":"30 Aug","col":"r","ls":"d","x":580,"x2":635,"y":0.00693},
    {"t":"s","day":"30 Aug","col":"r","ls":"d","x":580,"x2":635,"y":0.00665},
    {"t":"s","day":"30 Aug","col":"r","ls":"d","x":580,"x2":635,"y":0.00575},

    {"t":"s","day":"31 Aug","col":"k","ls":"s","x":405,"x2":640,"y":0.01883},
    {"t":"s","day":"31 Aug","col":"k","ls":"s","x":405,"x2":640,"y":0.01725},
    {"t":"s","day":"31 Aug","col":"k","ls":"s","x":405,"x2":640,"y":0.01671},
    {"t":"s","day":"31 Aug","col":"k","ls":"s","x":405,"x2":640,"y":0.01592},
    {"t":"s","day":"31 Aug","col":"k","ls":"s","x":405,"x2":640,"y":0.01465},
    {"t":"s","day":"31 Aug","col":"k","ls":"d","x":405,"x2":640,"y":0.01772},
    {"t":"s","day":"31 Aug","col":"k","ls":"d","x":405,"x2":640,"y":0.01709},
    {"t":"s","day":"31 Aug","col":"k","ls":"d","x":405,"x2":640,"y":0.01576},
    {"t":"s","day":"31 Aug","col":"k","ls":"d","x":405,"x2":640,"y":0.00927},
    {"t":"s","day":"31 Aug","col":"b","ls":"s","x":410,"x2":505,"y":0.02035},
    {"t":"s","day":"31 Aug","col":"b","ls":"s","x":410,"x2":505,"y":0.01813},
    {"t":"s","day":"31 Aug","col":"b","ls":"s","x":410,"x2":505,"y":0.0174},
    {"t":"s","day":"31 Aug","col":"b","ls":"s","x":410,"x2":505,"y":0.01608},
    {"t":"s","day":"31 Aug","col":"b","ls":"d","x":410,"x2":505,"y":0.01646},
    {"t":"s","day":"31 Aug","col":"b","ls":"d","x":410,"x2":505,"y":0.01544},
    {"t":"s","day":"31 Aug","col":"b","ls":"d","x":410,"x2":505,"y":0.01424},
    {"t":"s","day":"31 Aug","col":"b","ls":"d","x":410,"x2":505,"y":0.01101},
    {"t":"s","day":"31 Aug","col":"g","ls":"s","x":505,"x2":575,"y":0.02136},
    {"t":"s","day":"31 Aug","col":"g","ls":"s","x":505,"x2":575,"y":0.01965},
    {"t":"s","day":"31 Aug","col":"g","ls":"s","x":505,"x2":575,"y":0.01892},
    {"t":"s","day":"31 Aug","col":"g","ls":"s","x":505,"x2":575,"y":0.01813},
    {"t":"s","day":"31 Aug","col":"g","ls":"s","x":505,"x2":575,"y":0.01671},
    {"t":"s","day":"31 Aug","col":"g","ls":"d","x":505,"x2":575,"y":0.01449},
    {"t":"s","day":"31 Aug","col":"g","ls":"d","x":505,"x2":575,"y":0.01386},
    {"t":"s","day":"31 Aug","col":"g","ls":"d","x":505,"x2":575,"y":0.01266},
    {"t":"s","day":"31 Aug","col":"g","ls":"d","x":505,"x2":575,"y":0.00873},
    {"t":"s","day":"31 Aug","col":"r","ls":"s","x":580,"x2":635,"y":0.00975},
    {"t":"s","day":"31 Aug","col":"r","ls":"s","x":580,"x2":635,"y":0.0088},
    {"t":"s","day":"31 Aug","col":"r","ls":"s","x":580,"x2":635,"y":0.00848},
    {"t":"s","day":"31 Aug","col":"r","ls":"s","x":580,"x2":635,"y":0.00801},
    {"t":"s","day":"31 Aug","col":"r","ls":"s","x":580,"x2":635,"y":0.00722},
    {"t":"s","day":"31 Aug","col":"r","ls":"d","x":580,"x2":635,"y":0.00579},
    {"t":"s","day":"31 Aug","col":"r","ls":"d","x":580,"x2":635,"y":0.00532},
    {"t":"s","day":"31 Aug","col":"r","ls":"d","x":580,"x2":635,"y":0.00494},
    {"t":"s","day":"31 Aug","col":"r","ls":"d","x":580,"x2":635,"y":0.00326},

    {"t":"s","day":"01 Sep","col":"k","ls":"s","x":405,"x2":640,"y":0.01997},
    {"t":"s","day":"01 Sep","col":"k","ls":"s","x":405,"x2":640,"y":0.0184},
    {"t":"s","day":"01 Sep","col":"k","ls":"s","x":405,"x2":640,"y":0.0182},
    {"t":"s","day":"01 Sep","col":"k","ls":"s","x":405,"x2":640,"y":0.01513},
    {"t":"s","day":"01 Sep","col":"k","ls":"d","x":405,"x2":640,"y":0.01943},
    {"t":"s","day":"01 Sep","col":"k","ls":"d","x":405,"x2":640,"y":0.0175},
    {"t":"s","day":"01 Sep","col":"k","ls":"d","x":405,"x2":640,"y":0.01449},
    {"t":"s","day":"01 Sep","col":"k","ls":"d","x":405,"x2":640,"y":0.01367},
    {"t":"s","day":"01 Sep","col":"b","ls":"s","x":410,"x2":505,"y":0.02136},
    {"t":"s","day":"01 Sep","col":"b","ls":"s","x":410,"x2":505,"y":0.01968},
    {"t":"s","day":"01 Sep","col":"b","ls":"s","x":410,"x2":505,"y":0.01661},
    {"t":"s","day":"01 Sep","col":"b","ls":"d","x":410,"x2":505,"y":0.01709},
    {"t":"s","day":"01 Sep","col":"b","ls":"d","x":410,"x2":505,"y":0.01687},
    {"t":"s","day":"01 Sep","col":"b","ls":"d","x":410,"x2":505,"y":0.01601},
    {"t":"s","day":"01 Sep","col":"b","ls":"d","x":410,"x2":505,"y":0.0132},
    {"t":"s","day":"01 Sep","col":"b","ls":"d","x":410,"x2":505,"y":0.0130},
    {"t":"s","day":"01 Sep","col":"g","ls":"s","x":505,"x2":575,"y":0.02282},
    {"t":"s","day":"01 Sep","col":"g","ls":"s","x":505,"x2":575,"y":0.0209},
    {"t":"s","day":"01 Sep","col":"g","ls":"s","x":505,"x2":575,"y":0.02075},
    {"t":"s","day":"01 Sep","col":"g","ls":"s","x":505,"x2":575,"y":0.01725},
    {"t":"s","day":"01 Sep","col":"g","ls":"d","x":505,"x2":575,"y":0.01545},
    {"t":"s","day":"01 Sep","col":"g","ls":"d","x":505,"x2":575,"y":0.0153},
    {"t":"s","day":"01 Sep","col":"g","ls":"d","x":505,"x2":575,"y":0.01424},
    {"t":"s","day":"01 Sep","col":"g","ls":"d","x":505,"x2":575,"y":0.01158},
    {"t":"s","day":"01 Sep","col":"g","ls":"d","x":505,"x2":575,"y":0.01139},
    {"t":"s","day":"01 Sep","col":"r","ls":"s","x":580,"x2":635,"y":0.01044},
    {"t":"s","day":"01 Sep","col":"r","ls":"s","x":580,"x2":635,"y":0.00955},
    {"t":"s","day":"01 Sep","col":"r","ls":"s","x":580,"x2":635,"y":0.00943},
    {"t":"s","day":"01 Sep","col":"r","ls":"s","x":580,"x2":635,"y":0.00753},
    {"t":"s","day":"01 Sep","col":"r","ls":"d","x":580,"x2":635,"y":0.00611},
    {"t":"s","day":"01 Sep","col":"r","ls":"d","x":580,"x2":635,"y":0.00557},
    {"t":"s","day":"01 Sep","col":"r","ls":"d","x":580,"x2":635,"y":0.0043},

    {"t":"s","day":"02 Sep","col":"k","ls":"d","x":405,"x2":640,"y":0.02358},
    {"t":"s","day":"02 Sep","col":"k","ls":"d","x":405,"x2":640,"y":0.0232},
    {"t":"s","day":"02 Sep","col":"k","ls":"d","x":405,"x2":640,"y":0.02266},
    {"t":"s","day":"02 Sep","col":"k","ls":"d","x":405,"x2":640,"y":0.0224},
    {"t":"s","day":"02 Sep","col":"k","ls":"d","x":405,"x2":640,"y":0.0206},
    {"t":"s","day":"02 Sep","col":"k","ls":"s","x":405,"x2":640,"y":0.01883},
    {"t":"s","day":"02 Sep","col":"k","ls":"s","x":405,"x2":640,"y":0.01829},
    {"t":"s","day":"02 Sep","col":"k","ls":"s","x":405,"x2":640,"y":0.01766},
    {"t":"s","day":"02 Sep","col":"b","ls":"s","x":410,"x2":505,"y":0.02025},
    {"t":"s","day":"02 Sep","col":"b","ls":"s","x":410,"x2":505,"y":0.02003},
    {"t":"s","day":"02 Sep","col":"b","ls":"s","x":410,"x2":505,"y":0.01918},
    {"t":"s","day":"02 Sep","col":"b","ls":"s","x":410,"x2":505,"y":0.01902},
    {"t":"s","day":"02 Sep","col":"b","ls":"d","x":410,"x2":505,"y":0.01861},
    {"t":"s","day":"02 Sep","col":"b","ls":"d","x":410,"x2":505,"y":0.01797},
    {"t":"s","day":"02 Sep","col":"b","ls":"d","x":410,"x2":505,"y":0.01709},
    {"t":"s","day":"02 Sep","col":"b","ls":"d","x":410,"x2":505,"y":0.01665},
    {"t":"s","day":"02 Sep","col":"g","ls":"s","x":505,"x2":575,"y":0.02139},
    {"t":"s","day":"02 Sep","col":"g","ls":"s","x":505,"x2":575,"y":0.02082},
    {"t":"s","day":"02 Sep","col":"g","ls":"s","x":505,"x2":575,"y":0.02013},
    {"t":"s","day":"02 Sep","col":"g","ls":"s","x":505,"x2":575,"y":0.02005},
    {"t":"s","day":"02 Sep","col":"g","ls":"d","x":505,"x2":575,"y":0.01703},
    {"t":"s","day":"02 Sep","col":"g","ls":"d","x":505,"x2":575,"y":0.01652},
    {"t":"s","day":"02 Sep","col":"g","ls":"d","x":505,"x2":575,"y":0.0164},
    {"t":"s","day":"02 Sep","col":"g","ls":"d","x":505,"x2":575,"y":0.01544},
    {"t":"s","day":"02 Sep","col":"r","ls":"s","x":580,"x2":635,"y":0.00975},
    {"t":"s","day":"02 Sep","col":"r","ls":"s","x":580,"x2":635,"y":0.00937},
    {"t":"s","day":"02 Sep","col":"r","ls":"s","x":580,"x2":635,"y":0.00889},
    {"t":"s","day":"02 Sep","col":"r","ls":"d","x":580,"x2":635,"y":0.00611},
    {"t":"s","day":"02 Sep","col":"r","ls":"d","x":580,"x2":635,"y":0.0057},

    {"t":"l","day":"25 Aug","x":420,"y":0.0034},
    {"t":"l","day":"26 Aug","x":420,"y":0.0034},
    {"t":"l","day":"27 Aug","x":420,"y":0.0034},
    {"t":"l","day":"28 Aug","x":420,"y":0.0034},
    {"t":"l","day":"29 Aug","x":420,"y":0.0034},
    {"t":"l","day":"30 Aug","x":420,"y":0.0034},
    {"t":"l","day":"31 Aug","x":420,"y":0.0034},
    {"t":"l","day":"01 Sep","x":420,"y":0.0034},
    {"t":"l","day":"02 Sep","x":420,"y":0.0034}
  ]},
  "facet": {
    "field": "day",
    "type": "nominal",
    "sort": ["25 Aug", "26 Aug", "27 Aug", "28 Aug", "29 Aug", "30 Aug", "31 Aug", "01 Sep", "02 Sep"],
    "title": null,
    "header": {"labels": false, "labelExpr": "''", "labelFontSize": 1, "labelColor": "#ffffff", "title": null, "labelPadding": 0, "titlePadding": 0}
  },
  "columns": 3,
  "spacing": {"row": 43, "column": 81},
  "spec": {
    "width": 571,
    "height": 423,
    "encoding": {
      "x": {
        "field": "x",
        "type": "quantitative",
        "scale": {"domain": [400, 700], "nice": false, "zero": false},
        "axis": {
          "values": [400, 500, 600, 700],
          "format": "d",
          "title": "wavelength (nm)",
          "labelFlush": false,
          "domain": false,
          "tickSize": -7,
          "tickWidth": 2.5,
          "tickColor": "#444444",
          "labelPadding": 35,
          "labelFontSize": 31,
          "titleFontSize": 35,
          "titlePadding": 18,
          "gridOpacity": {"condition": {"test": "datum.value == 400 || datum.value == 700", "value": 0}, "value": 1}
        }
      },
      "y": {
        "field": "y",
        "type": "quantitative",
        "scale": {"domain": [0, 0.04], "nice": false, "zero": false},
        "axis": {
          "values": [0, 0.01, 0.02, 0.03, 0.04],
          "format": "~g",
          "title": "transmittance",
          "domain": false,
          "tickSize": -7,
          "tickWidth": 2.5,
          "tickColor": "#444444",
          "labelPadding": 33,
          "labelFontSize": 31,
          "titleFontSize": 35,
          "titlePadding": 8,
          "gridOpacity": {"condition": {"test": "datum.value == 0 || datum.value == 0.04", "value": 0}, "value": 1}
        }
      }
    },
    "layer": [
      {
        "transform": [{"filter": "datum.t == 's'"}],
        "mark": {"type": "rule", "strokeWidth": 2.5},
        "encoding": {
          "x2": {"field": "x2"},
          "color": {"field": "col", "type": "nominal", "scale": {"domain": ["k", "b", "g", "r"], "range": ["#1a1a1a", "#2160ad", "#5cb946", "#ee3030"]}, "legend": null},
          "strokeDash": {"field": "ls", "type": "nominal", "scale": {"domain": ["s", "d"], "range": [[1, 0], [31, 19]]}, "legend": null}
        }
      },
      {
        "transform": [
          {"filter": "datum.t == 'w'"},
          {"fold": ["c1", "c2", "c3", "c4", "c5"], "as": ["k", "y"]},
          {"filter": "isValid(datum.y)"}
        ],
        "mark": {"type": "line", "color": "#ffc61e", "strokeWidth": 2.5},
        "encoding": {"detail": {"field": "k", "type": "nominal"}}
      },
      {
        "transform": [{"filter": "datum.t == 'l'"}],
        "mark": {"type": "text", "align": "left", "baseline": "alphabetic", "fontSize": 37, "font": "Open Sans", "color": "#111111"},
        "encoding": {"text": {"field": "day", "type": "nominal"}}
      }
    ]
  },
  "config": {
    "font": "Open Sans",
    "header": {"labels": false, "labelFontSize": 1, "labelColor": "#ffffff"},
    "axis": {
      "labelFont": "Open Sans",
      "titleFont": "Open Sans",
      "labelColor": "#444444",
      "titleColor": "#444444",
      "titleFontWeight": "normal",
      "gridColor": "#dddddd",
      "gridWidth": 2
    },
    "view": {"stroke": "#474747", "strokeWidth": 3.5}
  }
}
